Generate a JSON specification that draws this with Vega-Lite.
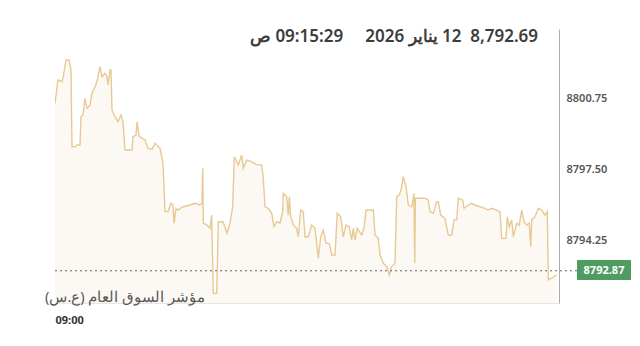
{
  "$schema": "https://vega.github.io/schema/vega-lite/v6.json",
  "width": 504,
  "height": 274,
  "autosize": "none",
  "padding": {"left": 55, "top": 29, "right": 81, "bottom": 43},
  "background": "#ffffff",
  "config": {"view": {"stroke": null}, "font": "Noto Sans"},
  "datasets": {
    "one": [{}],
    "series": [
      {"t": 0, "v": 8800.51}, {"t": 3, "v": 8801.57}, {"t": 7, "v": 8801.5}, {"t": 8, "v": 8801.66},
      {"t": 11, "v": 8802.49}, {"t": 14, "v": 8802.49}, {"t": 16, "v": 8802.03}, {"t": 17, "v": 8798.53},
      {"t": 20, "v": 8798.53}, {"t": 22, "v": 8798.61}, {"t": 25, "v": 8798.61}, {"t": 26, "v": 8799.9},
      {"t": 28, "v": 8799.98}, {"t": 30, "v": 8800.74}, {"t": 32, "v": 8800.28}, {"t": 35, "v": 8800.43},
      {"t": 37, "v": 8800.97}, {"t": 40, "v": 8801.27}, {"t": 42, "v": 8801.5}, {"t": 45, "v": 8802.18},
      {"t": 47, "v": 8801.72}, {"t": 50, "v": 8801.88}, {"t": 52, "v": 8801.72}, {"t": 53, "v": 8801.35},
      {"t": 55, "v": 8802.03}, {"t": 56, "v": 8802.03}, {"t": 57, "v": 8800.2}, {"t": 60, "v": 8799.9},
      {"t": 63, "v": 8799.67}, {"t": 66, "v": 8799.98}, {"t": 68, "v": 8799.67}, {"t": 70, "v": 8798.38},
      {"t": 77, "v": 8798.38}, {"t": 78, "v": 8798.99}, {"t": 81, "v": 8799.06}, {"t": 82, "v": 8799.67},
      {"t": 84, "v": 8799.02}, {"t": 87, "v": 8798.91}, {"t": 90, "v": 8798.84}, {"t": 93, "v": 8798.46},
      {"t": 97, "v": 8798.41}, {"t": 100, "v": 8798.69}, {"t": 105, "v": 8798.46}, {"t": 108, "v": 8797.77},
      {"t": 110, "v": 8795.57}, {"t": 113, "v": 8795.57}, {"t": 116, "v": 8795.95}, {"t": 118, "v": 8795.87},
      {"t": 119, "v": 8795.04}, {"t": 121, "v": 8795.72}, {"t": 123, "v": 8795.64}, {"t": 128, "v": 8795.79},
      {"t": 135, "v": 8795.87}, {"t": 140, "v": 8795.95}, {"t": 145, "v": 8795.87}, {"t": 147, "v": 8795.95},
      {"t": 147.7, "v": 8797.55}, {"t": 148.3, "v": 8795.04}, {"t": 152, "v": 8794.96}, {"t": 155, "v": 8794.81},
      {"t": 156.7, "v": 8795.41}, {"t": 158.3, "v": 8791.84}, {"t": 161.7, "v": 8791.84}, {"t": 163.3, "v": 8795.11},
      {"t": 168, "v": 8795.11}, {"t": 172, "v": 8794.58}, {"t": 175, "v": 8795.04}, {"t": 177.7, "v": 8795.79},
      {"t": 179.3, "v": 8798.07}, {"t": 181.7, "v": 8797.85}, {"t": 183.3, "v": 8797.7}, {"t": 186.7, "v": 8798.15},
      {"t": 188.3, "v": 8797.55}, {"t": 191.7, "v": 8797.92}, {"t": 196.7, "v": 8797.85}, {"t": 201.7, "v": 8797.7},
      {"t": 206.7, "v": 8797.7}, {"t": 208.3, "v": 8797.09}, {"t": 210, "v": 8795.79}, {"t": 213.3, "v": 8795.72},
      {"t": 216.7, "v": 8795.49}, {"t": 219, "v": 8794.88}, {"t": 221.7, "v": 8795.11}, {"t": 225, "v": 8795.04},
      {"t": 227.7, "v": 8795.57}, {"t": 228.3, "v": 8796.4}, {"t": 231.7, "v": 8796.25}, {"t": 233.3, "v": 8795.41},
      {"t": 234.3, "v": 8796.25}, {"t": 235.7, "v": 8795.34}, {"t": 238.3, "v": 8794.96}, {"t": 241.7, "v": 8794.81},
      {"t": 243.3, "v": 8794.42}, {"t": 245.7, "v": 8795.64}, {"t": 248.3, "v": 8795.57}, {"t": 250, "v": 8794.42},
      {"t": 253.3, "v": 8794.42}, {"t": 256.7, "v": 8794.96}, {"t": 260, "v": 8794.81}, {"t": 263.3, "v": 8793.44},
      {"t": 265.7, "v": 8794.42}, {"t": 268.3, "v": 8794.73}, {"t": 271, "v": 8794.12}, {"t": 274.3, "v": 8794.12},
      {"t": 276.7, "v": 8793.59}, {"t": 280, "v": 8793.59}, {"t": 282.3, "v": 8795.49}, {"t": 285.7, "v": 8795.34},
      {"t": 288.3, "v": 8794.42}, {"t": 291, "v": 8794.96}, {"t": 294.3, "v": 8794.88}, {"t": 296.7, "v": 8794.27},
      {"t": 298.3, "v": 8794.81}, {"t": 300, "v": 8794.27}, {"t": 302.3, "v": 8794.81}, {"t": 306.7, "v": 8794.5},
      {"t": 309, "v": 8794.81}, {"t": 311, "v": 8795.64}, {"t": 318.3, "v": 8795.64}, {"t": 320, "v": 8794.5},
      {"t": 323.3, "v": 8794.35}, {"t": 325, "v": 8793.59}, {"t": 328.3, "v": 8793.21}, {"t": 331.7, "v": 8793.06},
      {"t": 334.3, "v": 8792.68}, {"t": 336.7, "v": 8793.06}, {"t": 340, "v": 8793.21}, {"t": 341.7, "v": 8796.25},
      {"t": 344.3, "v": 8796.33}, {"t": 346, "v": 8796.56}, {"t": 348.3, "v": 8797.16}, {"t": 351, "v": 8796.71},
      {"t": 353.3, "v": 8795.87}, {"t": 356.7, "v": 8795.79}, {"t": 359, "v": 8796.4}, {"t": 359.7, "v": 8793.21},
      {"t": 360.4, "v": 8796.18}, {"t": 361.7, "v": 8796.18}, {"t": 365, "v": 8796.18}, {"t": 370, "v": 8796.18},
      {"t": 373.3, "v": 8796.1}, {"t": 375, "v": 8795.57}, {"t": 378.3, "v": 8795.49}, {"t": 381.7, "v": 8796.02},
      {"t": 383.3, "v": 8796.02}, {"t": 385.7, "v": 8795.41}, {"t": 390, "v": 8795.26}, {"t": 393.3, "v": 8794.5},
      {"t": 396.7, "v": 8794.5}, {"t": 399, "v": 8795.19}, {"t": 401.7, "v": 8795.19}, {"t": 403.3, "v": 8796.18},
      {"t": 407.7, "v": 8796.1}, {"t": 409, "v": 8795.72}, {"t": 413.3, "v": 8795.87}, {"t": 416.7, "v": 8795.95},
      {"t": 420, "v": 8795.87}, {"t": 425, "v": 8795.79}, {"t": 430, "v": 8795.72}, {"t": 433.3, "v": 8795.64},
      {"t": 436.7, "v": 8795.72}, {"t": 441.7, "v": 8795.64}, {"t": 445, "v": 8795.57}, {"t": 446.7, "v": 8794.35},
      {"t": 451, "v": 8794.35}, {"t": 452.3, "v": 8795.34}, {"t": 454.3, "v": 8794.88}, {"t": 456.7, "v": 8795.19},
      {"t": 458.3, "v": 8794.42}, {"t": 461.7, "v": 8795.04}, {"t": 464.3, "v": 8794.96}, {"t": 466.7, "v": 8795.64},
      {"t": 469, "v": 8795.11}, {"t": 471.7, "v": 8794.96}, {"t": 474.3, "v": 8795.04}, {"t": 475.7, "v": 8793.97},
      {"t": 476.7, "v": 8795.19}, {"t": 480, "v": 8795.34}, {"t": 483.3, "v": 8795.72}, {"t": 486.7, "v": 8795.64},
      {"t": 490, "v": 8795.41}, {"t": 492.3, "v": 8795.57}, {"t": 493.3, "v": 8792.45}, {"t": 496.7, "v": 8792.53},
      {"t": 501.7, "v": 8792.69}
    ]
  },
  "layer": [
    {
      "data": {"name": "series"},
      "mark": {"type": "area", "color": "#fbf5ee", "clip": true, "line": {"color": "#e8c993", "strokeWidth": 1.4}},
      "encoding": {
        "x": {
          "field": "t", "type": "quantitative",
          "scale": {"domain": [0, 504], "nice": false, "zero": false},
          "axis": {
            "orient": "bottom", "values": [0], "labelExpr": "'09:00'", "labelAlign": "left",
            "labelFontWeight": "bold", "labelFontSize": 11, "labelColor": "#333333",
            "labelPadding": 11, "ticks": false, "grid": false, "title": null,
            "domain": true, "domainColor": "#e6e6e6", "labelFont": "Noto Sans"
          }
        },
        "y": {
          "field": "v", "type": "quantitative",
          "scale": {"domain": [8791.4, 8803.9], "nice": false, "zero": false},
          "axis": {
            "orient": "right", "values": [8794.25, 8797.5, 8800.75], "format": ".2f",
            "ticks": false, "grid": false, "title": null, "labelPadding": 7,
            "labelFontSize": 11, "labelFontWeight": 600, "labelColor": "#555555",
            "domainColor": "#aaaaaa", "labelFont": "Noto Sans"
          }
        }
      }
    },
    {
      "data": {"name": "one"},
      "mark": {"type": "rule", "color": "#666666", "strokeDash": [2, 3], "strokeWidth": 1},
      "encoding": {
        "x": {"datum": 0, "type": "quantitative"},
        "x2": {"datum": 522},
        "y": {"datum": 8792.87, "type": "quantitative"}
      }
    },
    {
      "data": {"name": "one"},
      "mark": {"type": "rect", "color": "#4f9b62", "cornerRadius": 1},
      "encoding": {
        "x": {"datum": 522, "type": "quantitative"},
        "x2": {"datum": 576},
        "y": {"datum": 8793.36, "type": "quantitative"},
        "y2": {"datum": 8792.45}
      }
    },
    {
      "data": {"name": "one"},
      "mark": {"type": "text", "color": "#ffffff", "fontWeight": "bold", "fontSize": 11, "align": "center", "baseline": "middle", "font": "Noto Sans"},
      "encoding": {
        "x": {"datum": 549, "type": "quantitative"},
        "y": {"datum": 8792.87, "type": "quantitative"},
        "text": {"value": "8792.87"}
      }
    },
    {
      "data": {"name": "one"},
      "mark": {"type": "text", "color": "#595959", "fontSize": 14.5, "align": "center", "baseline": "middle", "font": "Noto Sans"},
      "encoding": {
        "x": {"datum": 70, "type": "quantitative"},
        "y": {"datum": 8791.63, "type": "quantitative"},
        "text": {"value": "\u202bمؤشر السوق العام (ع.س)\u202c"}
      }
    },
    {
      "data": {"name": "one"},
      "mark": {"type": "text", "color": "#3d3d3d", "fontSize": 17, "fontWeight": 600, "align": "center", "baseline": "middle", "font": "Noto Sans"},
      "encoding": {
        "x": {"datum": 339, "type": "quantitative"},
        "y": {"datum": 8803.54, "type": "quantitative"},
        "text": {"value": "\u202b8,792.69\u00a0\u00a012 يناير 2026\u00a0\u00a0\u00a0\u00a0\u00a009:15:29 ص\u202c"}
      }
    }
  ]
}
